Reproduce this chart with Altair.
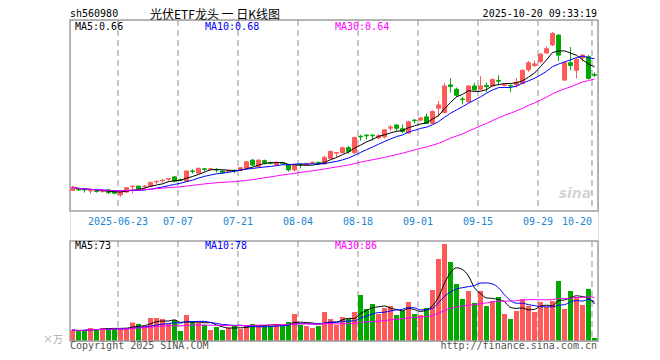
import altair as alt
import pandas as pd

# ---------------- data ----------------
opens = [0.438, 0.442, 0.440, 0.437, 0.437, 0.436, 0.439, 0.436, 0.430, 0.435,
         0.445, 0.446, 0.445, 0.446, 0.454, 0.456, 0.459, 0.463, 0.458, 0.455,
         0.474, 0.470, 0.478, 0.477, 0.477, 0.474, 0.473, 0.475, 0.476, 0.479,
         0.494, 0.482, 0.493, 0.489, 0.485, 0.489, 0.485, 0.476, 0.486, 0.486,
         0.489, 0.490, 0.487, 0.497, 0.507, 0.508, 0.517, 0.508, 0.538, 0.540,
         0.540, 0.535, 0.537, 0.553, 0.559, 0.552, 0.544, 0.568, 0.568, 0.574,
         0.562, 0.590, 0.582, 0.633, 0.625, 0.607, 0.602, 0.631, 0.625, 0.632,
         0.631, 0.641, 0.632, 0.632, 0.633, 0.636, 0.661, 0.669, 0.676, 0.692,
         0.707, 0.725, 0.642, 0.674, 0.660, 0.683, 0.685, 0.652]
closes = [0.444, 0.439, 0.439, 0.438, 0.436, 0.437, 0.434, 0.433, 0.436, 0.443,
          0.446, 0.440, 0.446, 0.453, 0.455, 0.457, 0.460, 0.455, 0.457, 0.474,
          0.473, 0.479, 0.477, 0.478, 0.476, 0.471, 0.475, 0.474, 0.480, 0.491,
          0.485, 0.494, 0.489, 0.488, 0.490, 0.488, 0.476, 0.485, 0.485, 0.488,
          0.490, 0.487, 0.499, 0.510, 0.508, 0.517, 0.510, 0.536, 0.537, 0.539,
          0.539, 0.539, 0.550, 0.555, 0.553, 0.547, 0.565, 0.567, 0.572, 0.562,
          0.584, 0.596, 0.631, 0.630, 0.614, 0.606, 0.631, 0.624, 0.631, 0.630,
          0.643, 0.640, 0.634, 0.631, 0.638, 0.660, 0.674, 0.672, 0.690, 0.700,
          0.728, 0.688, 0.674, 0.669, 0.680, 0.688, 0.645, 0.651]
highs = [0.445, 0.443, 0.442, 0.439, 0.440, 0.438, 0.440, 0.437, 0.437, 0.444,
         0.447, 0.447, 0.448, 0.454, 0.456, 0.458, 0.461, 0.465, 0.460, 0.475,
         0.477, 0.480, 0.479, 0.479, 0.479, 0.475, 0.476, 0.477, 0.481, 0.492,
         0.496, 0.495, 0.495, 0.491, 0.492, 0.491, 0.486, 0.487, 0.488, 0.489,
         0.491, 0.491, 0.502, 0.512, 0.509, 0.519, 0.520, 0.537, 0.541, 0.542,
         0.542, 0.542, 0.551, 0.559, 0.560, 0.560, 0.567, 0.570, 0.573, 0.580,
         0.586, 0.603, 0.637, 0.645, 0.628, 0.611, 0.633, 0.637, 0.649, 0.637,
         0.645, 0.651, 0.636, 0.634, 0.646, 0.662, 0.677, 0.678, 0.692, 0.704,
         0.731, 0.727, 0.676, 0.703, 0.683, 0.690, 0.688, 0.656]
lows = [0.437, 0.437, 0.434, 0.432, 0.434, 0.434, 0.431, 0.431, 0.426, 0.434,
        0.432, 0.439, 0.441, 0.445, 0.450, 0.452, 0.455, 0.453, 0.455, 0.454,
        0.469, 0.469, 0.473, 0.475, 0.471, 0.469, 0.472, 0.470, 0.475, 0.478,
        0.483, 0.481, 0.486, 0.486, 0.483, 0.485, 0.473, 0.473, 0.479, 0.485,
        0.487, 0.486, 0.486, 0.496, 0.498, 0.506, 0.506, 0.505, 0.530, 0.532,
        0.530, 0.533, 0.534, 0.548, 0.548, 0.544, 0.543, 0.562, 0.566, 0.561,
        0.560, 0.574, 0.581, 0.619, 0.611, 0.597, 0.600, 0.622, 0.623, 0.620,
        0.629, 0.632, 0.630, 0.620, 0.628, 0.634, 0.657, 0.666, 0.673, 0.690,
        0.705, 0.677, 0.641, 0.660, 0.645, 0.676, 0.643, 0.648]
volumes = [22, 20, 22, 26, 24, 26, 26, 24, 26, 26,
           37, 34, 30, 46, 46, 44, 34, 42, 20, 52,
           40, 38, 32, 22, 28, 22, 26, 32, 24, 32,
           34, 32, 32, 30, 34, 30, 38, 54, 32, 30,
           26, 30, 58, 44, 32, 48, 44, 58, 92, 64,
           74, 54, 66, 70, 52, 60, 78, 54, 52, 66,
           102, 164, 194, 158, 114, 84, 100, 76, 100, 70,
           80, 88, 54, 44, 60, 84, 70, 58, 78, 68,
           80, 120, 64, 100, 88, 72, 104, 6]

tick_idx = [8, 18, 28, 38, 48, 58, 68, 78, 87]
tick_labels = ["2025-06-23", "07-07", "07-21", "08-04", "08-18",
               "09-01", "09-15", "09-29", "10-20"]
price_ticks = [0.40, 0.45, 0.50, 0.55, 0.60, 0.65, 0.70, 0.75]
vol_ticks = [40, 80, 120, 160, 200]
price_ma_labels = ["MA5:0.66", "MA10:0.68", "MA30:0.64"]
vol_ma_labels = ["MA5:73", "MA10:78", "MA30:86"]
code_text = "sh560980"
title_text = "光伏ETF龙头 一 日K线图"
time_text = "2025-10-20 09:33:19"
unit_text = "×万"
copy_text = "Copyright 2025 SINA.COM"
url_text = "http://finance.sina.com.cn"

# ---------------- styling ----------------
MONO = "DejaVu Sans Mono"
CJK = "Noto Sans CJK SC"
RED = "#ff5a5a"
GREEN = "#00a800"
MA_COLORS = ["#000000", "#0000ff", "#ff00ff"]
W, PH, VT, VB = 528, 191, 221, 321

df = pd.DataFrame({"i": list(range(len(closes))), "open": opens, "close": closes,
                   "high": highs, "low": lows, "vol": volumes})
ticks_df = pd.DataFrame({"i": tick_idx, "label": tick_labels})

xs = alt.Scale(domain=[0, 88], nice=False, zero=False)
py = alt.Scale(domain=[0.40, 0.753], range=[PH, 0], nice=False, zero=False)
vy = alt.Scale(domain=[0, 200], range=[VB, VT], nice=False, zero=False)
dir_scale = alt.Scale(domain=["up", "down"], range=[RED, GREEN])

price_axis = alt.Axis(values=price_ticks, format=".2f", orient="left", title="",
                      domain=False, ticks=False, labelPadding=5, labelFlush=False,
                      labelColor="#ff0000", labelFont=MONO, labelFontSize=10,
                      grid=True, gridColor="#999999", gridDash=[1, 2], gridWidth=1)
vol_axis = alt.Axis(values=vol_ticks, orient="left", title="",
                    domain=False, ticks=False, labelPadding=5, labelFlush=False,
                    labelColor="#999999", labelFont=MONO, labelFontSize=10,
                    grid=True, gridColor="#999999", gridDash=[1, 2], gridWidth=1)

base = alt.Chart(df).transform_calculate(
    dir="datum.close >= datum.open ? 'up' : 'down'",
    xc="datum.i + 5/12",
    xl="datum.i + 1/12",
    xr="datum.i + 9/12",
    xb="datum.i + 5/6",
)


def vgrid(y0, y1):
    return alt.Chart(ticks_df).mark_rule(color="#b4b4b4", strokeWidth=1.5,
                                         strokeDash=[6, 4]).encode(
        x=alt.X("i:Q", scale=xs, axis=None), y=alt.value(y0), y2=alt.value(y1))


def border(y0, y1):
    return alt.Chart(alt.Data(values=[{}])).mark_rect(
        fillOpacity=0, stroke="#a0a0a0", strokeWidth=1.5).encode(
        x=alt.value(0), x2=alt.value(W), y=alt.value(y0), y2=alt.value(y1))


def txt(s, x, y, color, size=10, font=MONO, align="left", **kw):
    return alt.Chart(alt.Data(values=[{"t": s}])).mark_text(
        align=align, baseline="middle", font=font, fontSize=size, color=color, **kw
    ).encode(x=alt.value(x), y=alt.value(y), text="t:N")


def ma_line(field, k, color, scale, interp):
    return base.transform_window(
        m=f"mean({field})", frame=[-(k - 1), 0], sort=[alt.SortField("i")]
    ).mark_line(color=color, strokeWidth=1, interpolate=interp).encode(
        x=alt.X("xc:Q", scale=xs, axis=None),
        y=alt.Y("m:Q", scale=scale, axis=None))


wick = base.mark_rule(strokeWidth=1).encode(
    x=alt.X("xc:Q", scale=xs, axis=None),
    y=alt.Y("low:Q", scale=py, axis=price_axis), y2="high:Q",
    color=alt.Color("dir:N", scale=dir_scale, legend=None))
body = base.mark_rect(strokeWidth=1).encode(
    x=alt.X("xl:Q", scale=xs, axis=None), x2="xr:Q",
    y=alt.Y("open:Q", scale=py, axis=None), y2="close:Q",
    color=alt.Color("dir:N", scale=dir_scale, legend=None),
    stroke=alt.Stroke("dir:N", scale=dir_scale, legend=None))

watermark = txt("sina", 505, 174, "#d6d6d6", size=14, font="DejaVu Sans",
                fontStyle="italic", fontWeight="bold", align="center")

price = alt.layer(
    vgrid(0, PH), watermark, wick, body,
    ma_line("close", 5, MA_COLORS[0], py, "linear"),
    ma_line("close", 10, MA_COLORS[1], py, "linear"),
    ma_line("close", 30, MA_COLORS[2], py, "linear"),
    border(0, PH),
)

vbars = base.mark_rect().encode(
    x=alt.X("i:Q", scale=xs, axis=None), x2="xb:Q",
    y=alt.Y("vol:Q", scale=vy, axis=vol_axis), y2=alt.datum(0),
    color=alt.Color("dir:N", scale=dir_scale, legend=None))

vol = alt.layer(
    vgrid(VT, VB), vbars,
    ma_line("vol", 5, MA_COLORS[0], vy, "monotone"),
    ma_line("vol", 10, MA_COLORS[1], vy, "monotone"),
    ma_line("vol", 30, MA_COLORS[2], vy, "monotone"),
    border(VT, VB),
)

xlab_mid = alt.Chart(ticks_df).transform_filter("datum.i < 87").mark_text(
    align="center", baseline="middle", font=MONO, fontSize=10, color="#1a86d0"
).encode(x=alt.X("i:Q", scale=xs, axis=None), y=alt.value(202), text="label:N")
xlab_end = alt.Chart(ticks_df).transform_filter("datum.i >= 87").mark_text(
    align="right", baseline="middle", font=MONO, fontSize=10, color="#1a86d0"
).encode(x=alt.X("i:Q", scale=xs, axis=None), y=alt.value(202), text="label:N")

texts = [
    txt(code_text, 0, -6.5, "#000000"),
    txt(title_text, 80, -5.5, "#000000", size=12, font=CJK),
    txt(time_text, W - 1, -6.5, "#000000", align="right"),
    txt(price_ma_labels[0], 5, 6.5, MA_COLORS[0]),
    txt(price_ma_labels[1], 135, 6.5, MA_COLORS[1]),
    txt(price_ma_labels[2], 265, 6.5, MA_COLORS[2]),
    txt(vol_ma_labels[0], 5, 226, MA_COLORS[0]),
    txt(vol_ma_labels[1], 135, 226, MA_COLORS[1]),
    txt(vol_ma_labels[2], 265, 226, MA_COLORS[2]),
    txt(unit_text, -7, 320, "#aaaaaa", size=10, font=CJK, align="right"),
    txt(copy_text, 0, 326, "#555555"),
    txt(url_text, W - 1, 326, "#555555", align="right"),
]

chart = alt.layer(price, vol, xlab_mid, xlab_end, *texts).resolve_scale(
    y="independent"
).properties(
    width=W, height=VB,
    autosize=alt.AutoSizeParams(type="none"),
    padding={"left": 62, "top": 12, "right": 40, "bottom": 10},
).configure_view(stroke=None).configure(background="#ffffff")

chart.save("out.html", embed_options={"renderer": "svg", "actions": False})
